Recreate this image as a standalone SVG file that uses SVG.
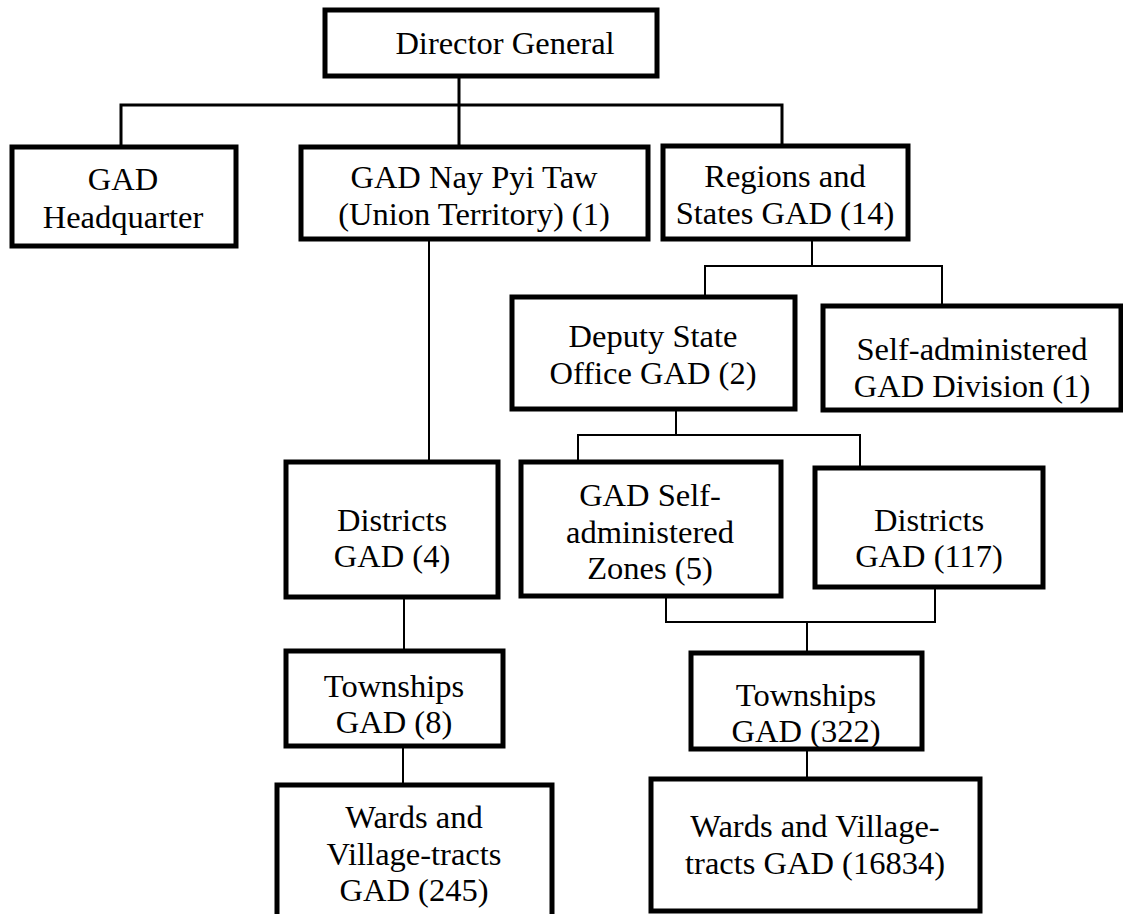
<svg xmlns="http://www.w3.org/2000/svg" width="1123" height="914" viewBox="0 0 1123 914">
<style>
.box{fill:#fff;stroke:#000;stroke-width:5}
.t{font-family:"Liberation Serif","Times New Roman",serif;font-size:32.5px;fill:#000;text-anchor:middle}
.c{fill:none;stroke:#000;stroke-width:2}
.c3{fill:none;stroke:#000;stroke-width:3}
</style>
<rect width="1123" height="914" fill="#fff"/>
<g id="connectors">
<path class="c3" d="M459 76V105M121 147V105H782V145M459 105V147"/>
<path class="c" d="M429 238V461"/>
<path class="c" d="M812 238V266M705 296V266H942V305"/>
<path class="c" d="M676 409V435M578 461V435H860V467"/>
<path class="c" d="M666 596V622H935V587M807 622V651"/>
<path class="c" d="M807 749V777"/>
<path class="c" d="M404 597V649"/>
<path class="c" d="M403 746V784"/>
</g>
<g id="director-general">
<rect class="box" x="325" y="10" width="332" height="66"/>
<text class="t" x="505" y="54">Director General</text>
</g>
<g id="gad-headquarter">
<rect class="box" x="12" y="147" width="224" height="99"/>
<text class="t" x="123" y="190">GAD</text>
<text class="t" x="123" y="228">Headquarter</text>
</g>
<g id="gad-nay-pyi-taw">
<rect class="box" x="301" y="147" width="347" height="92"/>
<text class="t" x="474" y="188">GAD Nay Pyi Taw</text>
<text class="t" x="474" y="225">(Union Territory) (1)</text>
</g>
<g id="regions-states">
<rect class="box" x="663" y="146" width="245" height="93"/>
<text class="t" x="785" y="187">Regions and</text>
<text class="t" x="785" y="224">States GAD (14)</text>
</g>
<g id="deputy-state">
<rect class="box" x="512" y="297" width="283" height="112"/>
<text class="t" x="653" y="347">Deputy State</text>
<text class="t" x="653" y="384">Office GAD (2)</text>
</g>
<g id="self-administered-division">
<rect class="box" x="823" y="306" width="298" height="104"/>
<text class="t" x="972" y="360">Self-administered</text>
<text class="t" x="972" y="397">GAD Division (1)</text>
</g>
<g id="districts-4">
<rect class="box" x="286" y="462" width="212" height="135"/>
<text class="t" x="392" y="531">Districts</text>
<text class="t" x="392" y="567">GAD (4)</text>
</g>
<g id="self-administered-zones">
<rect class="box" x="521" y="462" width="260" height="134"/>
<text class="t" x="650" y="506">GAD Self-</text>
<text class="t" x="650" y="543">administered</text>
<text class="t" x="650" y="579">Zones (5)</text>
</g>
<g id="districts-117">
<rect class="box" x="815" y="468" width="228" height="119"/>
<text class="t" x="929" y="531">Districts</text>
<text class="t" x="929" y="567">GAD (117)</text>
</g>
<g id="townships-8">
<rect class="box" x="286" y="651" width="217" height="95"/>
<text class="t" x="394" y="697">Townships</text>
<text class="t" x="394" y="733">GAD (8)</text>
</g>
<g id="townships-322">
<rect class="box" x="691" y="653" width="231" height="96"/>
<text class="t" x="806" y="706">Townships</text>
<text class="t" x="806" y="742">GAD (322)</text>
</g>
<g id="wards-245">
<rect class="box" x="277" y="785" width="275" height="140"/>
<text class="t" x="414" y="828">Wards and</text>
<text class="t" x="414" y="865">Village-tracts</text>
<text class="t" x="414" y="901">GAD (245)</text>
</g>
<g id="wards-16834">
<rect class="box" x="651" y="779" width="329" height="132"/>
<text class="t" x="815" y="837">Wards and Village-</text>
<text class="t" x="815" y="874">tracts GAD (16834)</text>
</g>
</svg>
